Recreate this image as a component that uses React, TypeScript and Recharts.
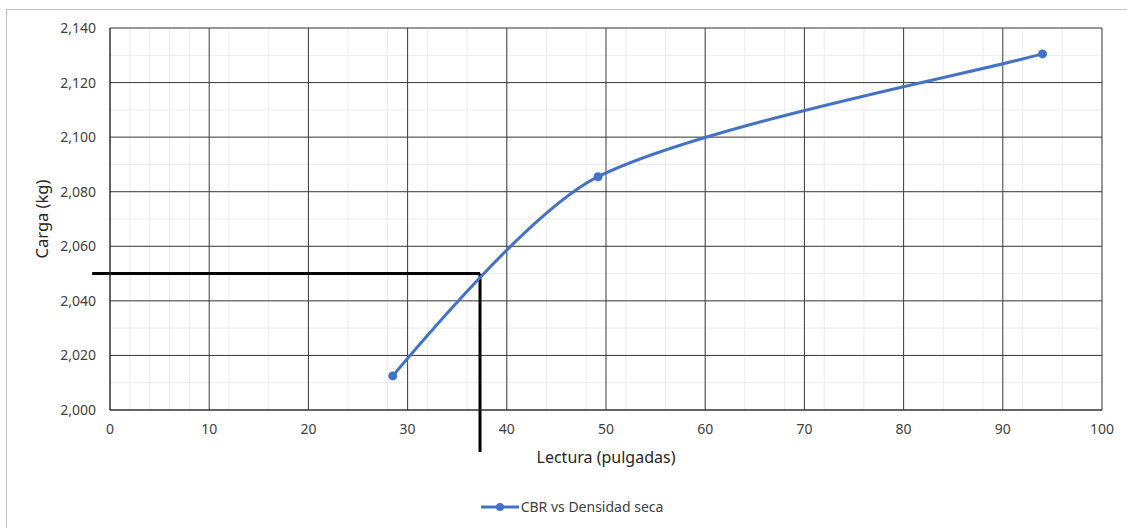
import {
  LineChart,
  Line,
  XAxis,
  YAxis,
  CartesianGrid,
  ReferenceLine,
  Legend,
} from 'recharts'

const lectura = [28.5, 49.2, 94]
const carga = [2.0125, 2.0855, 2.1305]

const xTicks = [0, 10, 20, 30, 40, 50, 60, 70, 80, 90, 100]
const yTicks = [2.0, 2.02, 2.04, 2.06, 2.08, 2.1, 2.12, 2.14]
const xMinorTicks = [
  0, 2, 4, 6, 8, 10, 12, 14, 16, 18, 20, 22, 24, 26, 28, 30, 32, 34, 36, 38, 40, 42, 44, 46, 48, 50,
  52, 54, 56, 58, 60, 62, 64, 66, 68, 70, 72, 74, 76, 78, 80, 82, 84, 86, 88, 90, 92, 94, 96, 98, 100,
]
const yMinorTicks = [
  2.0, 2.005, 2.01, 2.015, 2.02, 2.025, 2.03, 2.035, 2.04, 2.045, 2.05, 2.055, 2.06, 2.065, 2.07,
  2.075, 2.08, 2.085, 2.09, 2.095, 2.1, 2.105, 2.11, 2.115, 2.12, 2.125, 2.13, 2.135, 2.14,
]

// guide lines
const guideX = 37.3
const guideY = 2.05
const guideLeft = -1.8
const guideBottom = 1.9846

const data = lectura.map((x, i) => ({ x, y: carga[i] }))

const BLUE = '#4472C4'
const FONT = '"Noto Sans", sans-serif'

const fmtY = (v: number) => v.toFixed(3).replace('.', ',')

// Excel-like smoothed line: cubic beziers, tangent at inner points along (next - prev)
function excelSmooth(context: any) {
  let pts: number[][] = []
  const len = (a: number[], b: number[]) => Math.hypot(b[0] - a[0], b[1] - a[1])
  const unit = (a: number[], b: number[]) => {
    const l = len(a, b) || 1
    return [(b[0] - a[0]) / l, (b[1] - a[1]) / l]
  }
  return {
    areaStart() {},
    areaEnd() {},
    lineStart() {
      pts = []
    },
    point(x: number, y: number) {
      pts.push([+x, +y])
    },
    lineEnd() {
      const n = pts.length
      if (!n) return
      context.moveTo(pts[0][0], pts[0][1])
      if (n === 2) context.lineTo(pts[1][0], pts[1][1])
      if (n < 3) return
      const before: number[][] = []
      const after: number[][] = []
      for (let i = 1; i < n - 1; i++) {
        const d = unit(pts[i - 1], pts[i + 1])
        const lb = 0.25 * len(pts[i - 1], pts[i])
        const la = 0.25 * len(pts[i], pts[i + 1])
        before[i] = [pts[i][0] - d[0] * lb, pts[i][1] - d[1] * lb]
        after[i] = [pts[i][0] + d[0] * la, pts[i][1] + d[1] * la]
      }
      const d0 = unit(pts[0], before[1])
      const l0 = len(pts[0], pts[1]) / 6
      after[0] = [pts[0][0] + d0[0] * l0, pts[0][1] + d0[1] * l0]
      const dn = unit(pts[n - 1], pts[n - 2])
      const ln = len(pts[n - 2], pts[n - 1]) / 6
      before[n - 1] = [pts[n - 1][0] + dn[0] * ln, pts[n - 1][1] + dn[1] * ln]
      for (let i = 0; i < n - 1; i++) {
        context.bezierCurveTo(after[i][0], after[i][1], before[i + 1][0], before[i + 1][1], pts[i + 1][0], pts[i + 1][1])
      }
    },
  }
}

function LegendContent() {
  return (
    <div style={{ display: 'flex', justifyContent: 'center', alignItems: 'center', paddingLeft: 42, fontFamily: FONT, fontSize: 14, color: '#404040' }}>
      <svg width={38} height={12} style={{ marginRight: 2 }}>
        <line x1={0} y1={6} x2={38} y2={6} stroke={BLUE} strokeWidth={3} />
        <circle cx={19} cy={6} r={4} fill={BLUE} />
      </svg>
      <span>CBR vs Densidad seca</span>
    </div>
  )
}

export default function App() {
  return (
    <div style={{ position: 'absolute', left: 0, top: 0, width: 1127, height: 528, overflow: 'hidden', background: '#fff' }}>
      <div style={{ position: 'absolute', left: 6, top: 9, width: 1200, height: 600, border: '1px solid #bfbfbf' }} />
      <LineChart
        width={1127}
        height={528}
        data={data}
        margin={{ top: 28, right: 25, left: 0, bottom: 0 }}
        style={{ position: 'absolute', left: 0, top: 0, fontFamily: FONT }}
      >
        <XAxis
          xAxisId="minor"
          dataKey="x"
          type="number"
          domain={[0, 100]}
          allowDataOverflow
          ticks={xMinorTicks}
          hide
        />
        <YAxis
          yAxisId="minor"
          dataKey="y"
          type="number"
          domain={[2.0, 2.14]}
          allowDataOverflow
          ticks={yMinorTicks}
          hide
        />
        <CartesianGrid xAxisId="minor" yAxisId="minor" stroke="#ececec" strokeWidth={1} />
        <XAxis
          dataKey="x"
          type="number"
          domain={[0, 100]}
          ticks={xTicks}
          height={94}
          tickSize={0}
          tickMargin={14}
          axisLine={{ stroke: '#333', strokeWidth: 1 }}
          tick={{ fontSize: 14, fill: '#404040' }}
          label={{ value: 'Lectura (pulgadas)', position: 'insideTop', offset: 42, fontSize: 16, fill: '#262626' }}
        />
        <YAxis
          dataKey="y"
          type="number"
          domain={[2.0, 2.14]}
          ticks={yTicks}
          width={110}
          tickSize={0}
          tickMargin={14}
          axisLine={{ stroke: '#333', strokeWidth: 1 }}
          tickFormatter={fmtY}
          tick={{ fontSize: 14, fill: '#404040' }}
          label={{ value: 'Carga (kg)', angle: -90, position: 'insideLeft', offset: 42, fontSize: 16.5, fill: '#262626', style: { textAnchor: 'middle' } }}
        />
        <CartesianGrid stroke="#3a3a3a" strokeWidth={1} fill="none" />
        <ReferenceLine
          segment={[{ x: guideLeft, y: guideY }, { x: guideX, y: guideY }]}
          stroke="#000"
          strokeWidth={3}
          ifOverflow="visible"
        />
        <ReferenceLine
          segment={[{ x: guideX, y: guideY }, { x: guideX, y: guideBottom }]}
          stroke="#000"
          strokeWidth={3}
          ifOverflow="visible"
        />
        <Line
          type={excelSmooth as any}
          dataKey="y"
          stroke={BLUE}
          strokeWidth={3}
          dot={{ r: 4.5, fill: BLUE, stroke: 'none' }}
          activeDot={false}
          isAnimationActive={false}
        />
        <Legend height={24} verticalAlign="bottom" content={LegendContent} wrapperStyle={{ bottom: 7 }} />
      </LineChart>
    </div>
  )
}
